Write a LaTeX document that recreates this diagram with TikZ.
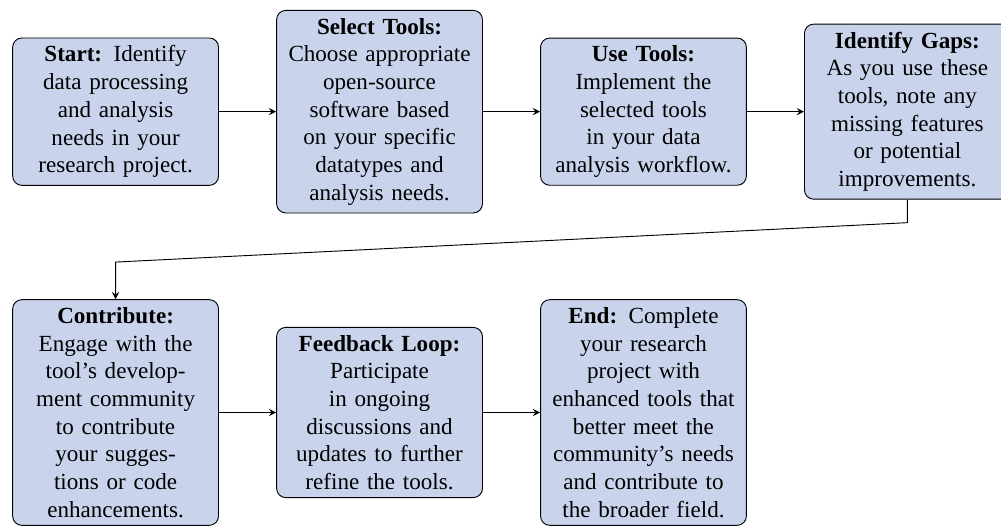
\documentclass[tikz,border=0pt]{standalone}
\usepackage{fontspec}
\setmainfont{Liberation Serif}
\usetikzlibrary{positioning}
\definecolor{boxblue}{RGB}{201,212,236}

\begin{document}
\begin{tikzpicture}[>=stealth, stepnode/.style={draw, rounded corners, fill=boxblue,
		text width=2.9cm, align=center}]
	\useasboundingbox (0,0) rectangle (15.24,-8.02);
	% top row
	\node[stepnode] (start) at (1.76,-1.70) {\textbf{Start:} Identify\\ data processing\\ and analysis\\ needs in your\\ research project.};
	\node[stepnode, right=0.87cm of start] (select) {\textbf{Select Tools:}\\ Choose appropriate\\ open-source\\ software based\\ on your specific\\ datatypes and\\ analysis needs.};
	\node[stepnode, right=0.87cm of select] (use) {\textbf{Use Tools:}\\ Implement the\\ selected tools\\ in your data\\ analysis workflow.};
	\node[stepnode, right=0.87cm of use] (gaps) {\textbf{Identify Gaps:}\\ As you use these\\ tools, note any\\ missing features\\ or potential\\ improvements.};
	% bottom row
	\node[stepnode] (contribute) at (1.76,-6.28) {\textbf{Contribute:}\\ Engage with the\\ tool's develop-\\ ment community\\ to contribute\\ your sugges-\\ tions or code\\ enhancements.};
	\node[stepnode, right=0.87cm of contribute] (feedback) {\textbf{Feedback Loop:}\\ Participate\\ in ongoing\\ discussions and\\ updates to further\\ refine the tools.};
	\node[stepnode, right=0.87cm of feedback] (end) {\textbf{End:} Complete\\ your research\\ project with\\ enhanced tools that\\ better meet the\\ community's needs\\ and contribute to\\ the broader field.};
	\coordinate (droplevel) at (0,-3.39);
	\coordinate (gapsdrop) at (gaps.south |- droplevel);
	\coordinate (contribtop) at (1.76,-3.99);
	\draw[->] (start) to (select);
	\draw[->] (select) to (use);
	\draw[->] (use) to (gaps);
	\draw[->] (gaps.south) -- (gapsdrop) -- (contribtop) -- (contribute.north);
	\draw[->] (contribute) to (feedback);
	\draw[->] (feedback) to (end);
\end{tikzpicture}
\end{document}
